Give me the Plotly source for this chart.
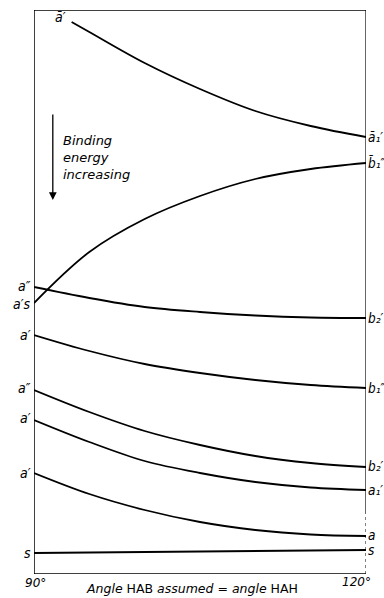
import plotly.graph_objects as go

# Angle HAB (degrees) sample positions
angles_a_bar = [93.4, 95, 100, 105, 110, 115, 120]
angles_full = [90, 95, 100, 105, 110, 115, 120]

# Orbital energies (arbitrary units, higher = less bound)
e_a_bar = [552, 542, 511, 485, 463, 448, 437]       # a-bar' -> a-bar1'
e_b1_bar = [271, 322, 355, 378, 395, 405, 411]      # a's -> b-bar1''
e_b2_top = [287, 276, 267, 262, 258.5, 256.5, 256]  # a'' -> b2'
e_b1 = [239, 223, 210, 201, 194, 189, 186]          # a' -> b1''
e_b2 = [184, 162, 143, 129, 118, 111, 107]          # a'' -> b2'
e_a1 = [154, 132, 113, 101, 92, 86.5, 84]           # a' -> a1'
e_a = [101, 80, 64, 52, 44, 39.5, 38]               # a' -> a
angles_s = [90, 120]
e_s = [21, 24]                                      # s -> s

left_labels = ["a″", "a′s", "a′", "a″", "a′", "a′", "s"]
left_label_e = [288, 270, 239, 186, 156, 101, 21]
right_labels = ["a\u0304₁′", "b\u0304₁″", "b₂′", "b₁″", "b₂′", "a₁′", "a", "s"]
right_label_e = [437, 411, 256, 186, 108, 84, 39, 24]
tick_labels = ["90°", "120°"]

fig = go.Figure()
series = [
    (angles_a_bar, e_a_bar),
    (angles_full, e_b1_bar),
    (angles_full, e_b2_top),
    (angles_full, e_b1),
    (angles_full, e_b2),
    (angles_full, e_a1),
    (angles_full, e_a),
    (angles_s, e_s),
]
for xs, ys in series:
    fig.add_trace(go.Scatter(x=xs, y=ys, mode="lines",
                             line=dict(color="black", width=1.8, shape="spline", smoothing=1.0),
                             showlegend=False, hoverinfo="skip", cliponaxis=False))

FONT = "DejaVu Sans"
LFONT = "DejaVu Sans Condensed, DejaVu Sans"
LS = 14
ann = []
for t, e in zip(left_labels, left_label_e):
    ann.append(dict(x=90, y=e, text="<i>%s</i>" % t, xanchor="right", yanchor="middle",
                    xshift=-1, showarrow=False, font=dict(size=LS, family=LFONT, color="black")))
for t, e in zip(right_labels, right_label_e):
    ann.append(dict(x=120, y=e, text="<i>%s</i>" % t, xanchor="left", yanchor="middle",
                    xshift=0, showarrow=False, font=dict(size=13.5, family=LFONT, color="black")))
ann.append(dict(x=92.35, y=557, text="<i>a\u0304′</i>", showarrow=False,
                font=dict(size=LS, family=LFONT, color="black")))
# Binding energy text
ann.append(dict(x=92.4, y=417, text="<i>Binding<br>energy<br>increasing</i>", xanchor="left",
                yanchor="middle", align="left", showarrow=False,
                font=dict(size=13, family=FONT, color="black")))
# arrow
ann.append(dict(x=91.7, y=374, ax=91.7, ay=461, xref="x", yref="y", axref="x", ayref="y",
                text="", showarrow=True, arrowhead=2, arrowsize=1.2, arrowwidth=1.3,
                arrowcolor="black"))
# tick labels
ann.append(dict(x=90, y=0, text="<i>%s</i>" % tick_labels[0], xanchor="center", yanchor="top",
                yshift=0, xshift=1, showarrow=False, font=dict(size=12, family=FONT, color="black")))
ann.append(dict(x=120, y=0, text="<i>%s</i>" % tick_labels[1], xanchor="center", yanchor="top",
                yshift=1, xshift=-10, showarrow=False, font=dict(size=12, family=FONT, color="black")))
ann.append(dict(x=104.3, y=0, text="<i>Angle</i> HAB <i>assumed = angle</i> HAH", xanchor="center",
                yanchor="top", yshift=-5, showarrow=False,
                font=dict(size=12.5, family=FONT, color="black")))

shapes = [
    dict(type="line", xref="x", yref="y", x0=90, x1=90, y0=0, y1=564, line=dict(color="black", width=1.5)),
    dict(type="line", xref="x", yref="y", x0=90, x1=120, y0=564, y1=564, line=dict(color="black", width=1.5)),
    dict(type="line", xref="x", yref="y", x0=90, x1=120, y0=0, y1=0, line=dict(color="black", width=1.5)),
    dict(type="line", xref="x", yref="y", x0=120, x1=120, y0=60, y1=564, line=dict(color="black", width=1.2)),
    dict(type="line", xref="x", yref="y", x0=120, x1=120, y0=0, y1=60, line=dict(color="black", width=1, dash="dot")),
]

fig.update_layout(
    width=384, height=598,
    margin=dict(l=34, r=18, t=10, b=24),
    paper_bgcolor="white", plot_bgcolor="white",
    xaxis=dict(range=[90, 120], visible=False, fixedrange=True),
    yaxis=dict(range=[0, 564], visible=False, fixedrange=True),
    annotations=ann, shapes=shapes,
)
fig.write_html(
    "out.html",
    config={"displayModeBar": False},
    post_script="document.documentElement.style.margin='0';document.documentElement.style.overflow='hidden';"
                "document.body.style.margin='0';document.body.style.overflow='hidden';",
)
